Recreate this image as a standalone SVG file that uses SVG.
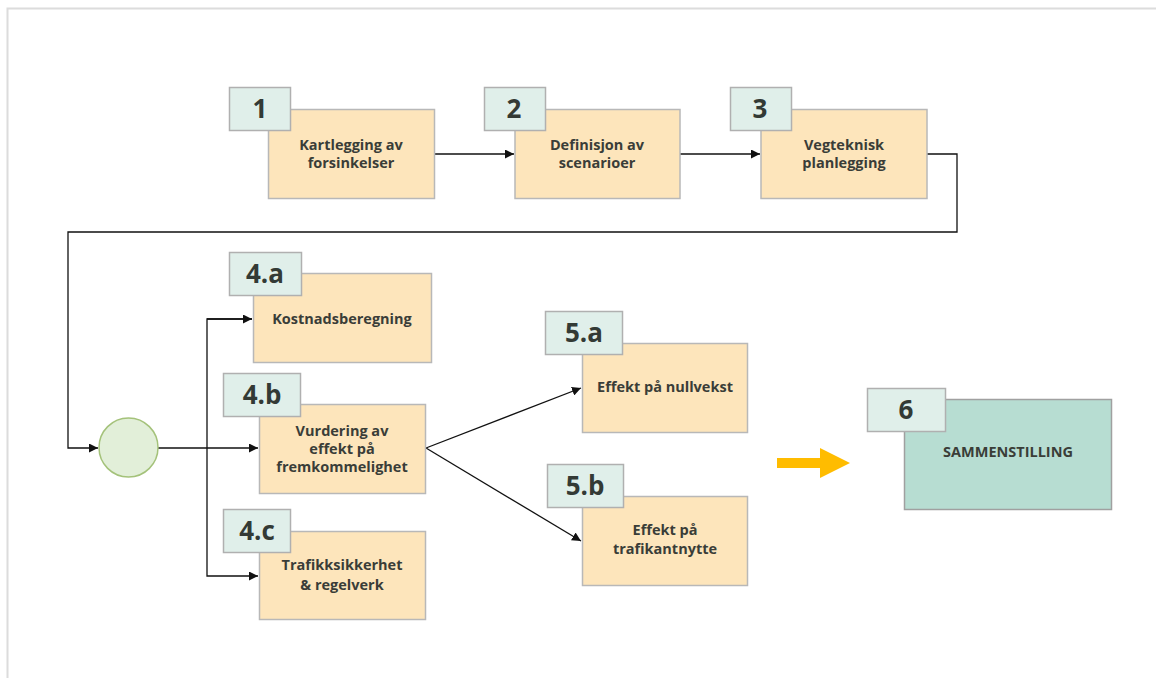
<svg xmlns="http://www.w3.org/2000/svg" width="1156" height="678" viewBox="0 0 1156 678">
<style>
.box{fill:#fde5bb;stroke:#b8b8b8;stroke-width:1.5}
.tag{fill:#e0efea;stroke:#b0b0b0;stroke-width:1.5}
.fin{fill:#b7ddd2;stroke:#a0a0a0;stroke-width:1.5}
.num{font-family:"Open Sans","Liberation Sans",sans-serif;font-weight:bold;font-size:26px;fill:#333a35;text-anchor:middle}
.txt{font-family:"Open Sans","Liberation Sans",sans-serif;font-weight:bold;font-size:14.5px;fill:#3a3d38;text-anchor:middle}
.ln{fill:none;stroke:#111;stroke-width:1.3}
</style>
<defs>
<marker id="ah" viewBox="0 0 10 10" refX="10" refY="5" markerWidth="9" markerHeight="9" markerUnits="userSpaceOnUse" orient="auto"><path d="M0,0 L10,5 L0,10 Z" fill="#111"/></marker>
</defs>
<rect width="1156" height="678" fill="#fff"/>
<path d="M7.5,678 V8.5 H1156" fill="none" stroke="#dcdcdc" stroke-width="2"/>
<g id="connectors">
<path class="ln" d="M434,154 H514" marker-end="url(#ah)"/>
<path class="ln" d="M680,154 H760" marker-end="url(#ah)"/>
<path class="ln" d="M927,154 H957 V232 H68 V448 H98" marker-end="url(#ah)"/>
<path class="ln" d="M158,448 H258" marker-end="url(#ah)"/>
<path class="ln" d="M252,319 H207 V576 H258" marker-end="url(#ah)"/>
<path class="ln" d="M207,319 H252" marker-end="url(#ah)"/>
<path class="ln" d="M426,448 L581,388" marker-end="url(#ah)"/>
<path class="ln" d="M426,448 L581,541" marker-end="url(#ah)"/>
<path d="M777,458 H820 V448 L850,463 L820,478 V468 H777 Z" fill="#ffbc00"/>
</g>
<g id="n1">
<rect class="box" x="268.5" y="109.5" width="166" height="89"/>
<rect class="tag" x="229.5" y="87.5" width="61" height="43"/>
<text class="num" x="260" y="118">1</text>
<text class="txt" x="351" y="150">Kartlegging av</text>
<text class="txt" x="351" y="168">forsinkelser</text>
</g>
<g id="n2">
<rect class="box" x="515" y="109.5" width="165" height="89"/>
<rect class="tag" x="484.5" y="87.5" width="61" height="43"/>
<text class="num" x="514" y="118">2</text>
<text class="txt" x="597" y="150">Definisjon av</text>
<text class="txt" x="597" y="168">scenarioer</text>
</g>
<g id="n3">
<rect class="box" x="761" y="109.5" width="166" height="89"/>
<rect class="tag" x="730.5" y="87.5" width="61" height="43"/>
<text class="num" x="760" y="118">3</text>
<text class="txt" x="844" y="150">Vegteknisk</text>
<text class="txt" x="844" y="168">planlegging</text>
</g>
<g id="hub">
<circle cx="128.5" cy="447.5" r="29.5" fill="#e2efd9" stroke="#a4c27a" stroke-width="1.5"/>
</g>
<g id="n4a">
<rect class="box" x="253.5" y="273.5" width="178" height="89"/>
<rect class="tag" x="229.5" y="252.5" width="72" height="43"/>
<text class="num" x="265" y="283">4.a</text>
<text class="txt" x="342" y="324">Kostnadsberegning</text>
</g>
<g id="n4b">
<rect class="box" x="259.5" y="404.5" width="166" height="89"/>
<rect class="tag" x="223.5" y="373.5" width="77" height="43"/>
<text class="num" x="262" y="404">4.b</text>
<text class="txt" x="342" y="436">Vurdering av</text>
<text class="txt" x="342" y="454">effekt på</text>
<text class="txt" x="342" y="472">fremkommelighet</text>
</g>
<g id="n4c">
<rect class="box" x="259.5" y="531.5" width="166" height="88"/>
<rect class="tag" x="223.5" y="509.5" width="67" height="43"/>
<text class="num" x="257" y="540">4.c</text>
<text class="txt" x="342" y="570">Trafikksikkerhet</text>
<text class="txt" x="342" y="590">&amp; regelverk</text>
</g>
<g id="n5a">
<rect class="box" x="582.5" y="343.5" width="165" height="89"/>
<rect class="tag" x="545.5" y="311.5" width="77" height="43"/>
<text class="num" x="584" y="342">5.a</text>
<text class="txt" x="665" y="392">Effekt på nullvekst</text>
</g>
<g id="n5b">
<rect class="box" x="582.5" y="496.5" width="165" height="89"/>
<rect class="tag" x="547.5" y="464.5" width="76" height="43"/>
<text class="num" x="585" y="495">5.b</text>
<text class="txt" x="665" y="535">Effekt på</text>
<text class="txt" x="665" y="554">trafikantnytte</text>
</g>
<g id="n6">
<rect class="fin" x="904.5" y="399.5" width="207" height="110"/>
<rect class="tag" x="867.5" y="388.5" width="78" height="43"/>
<text class="num" x="906" y="419">6</text>
<text class="txt" x="1008" y="457">SAMMENSTILLING</text>
</g>
</svg>
